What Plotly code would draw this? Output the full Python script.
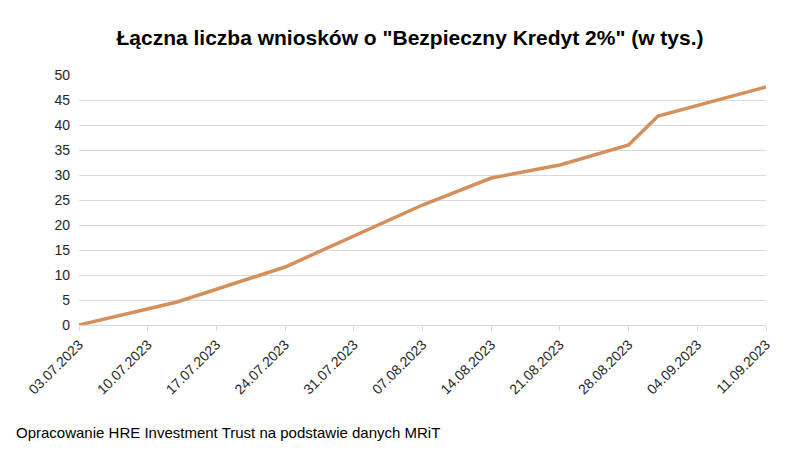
import plotly.graph_objects as go

dates = ["2023-07-03", "2023-07-10", "2023-07-13", "2023-07-24", "2023-08-07",
         "2023-08-14", "2023-08-21", "2023-08-28", "2023-08-31", "2023-09-11"]
values = [0, 3.2, 4.6, 11.6, 24.0, 29.4, 32.0, 36.0, 41.8, 47.6]
tick_dates = ["2023-07-03", "2023-07-10", "2023-07-17", "2023-07-24", "2023-07-31", "2023-08-07",
              "2023-08-14", "2023-08-21", "2023-08-28", "2023-09-04", "2023-09-11"]
tick_labels = [d[8:10] + "." + d[5:7] + "." + d[0:4] for d in tick_dates]

fig = go.Figure(go.Scatter(x=dates, y=values, mode="lines",
                           line=dict(color="#D4905C", width=3.5)))

fig.update_layout(
    width=804, height=454,
    margin=dict(l=71, r=46, t=67, b=137, autoexpand=False),
    plot_bgcolor="white", paper_bgcolor="white",
    font=dict(family="Liberation Sans, Arial", size=14, color="#262626"),
    showlegend=False,
    title=dict(text="<b>Łączna liczba wniosków o \"Bezpieczny Kredyt 2%\" (w tys.)</b>",
               x=0.5, xanchor="center", y=0.95, font=dict(size=21, color="black")),
    annotations=[dict(text="Opracowanie HRE Investment Trust na podstawie danych MRiT",
                      xref="paper", yref="paper", x=-0.095, y=-0.43, xanchor="left",
                      yanchor="middle", showarrow=False, font=dict(size=15, color="black"))],
)
fig.update_xaxes(type="date", tickvals=tick_dates, ticktext=tick_labels, tickangle=-45,
                 range=["2023-07-03", "2023-09-11"], showgrid=False, showline=True,
                 linecolor="#d9d9d9", ticks="outside", tickcolor="#d9d9d9", ticklen=5,
                 automargin=False, tickfont=dict(size=14, color="#262626"))
fig.update_yaxes(range=[0, 50], dtick=5, showgrid=True, gridcolor="#d9d9d9",
                 zeroline=False, automargin=False, ticklabelstandoff=8,
                 tickfont=dict(size=14, color="#262626"))

fig.write_html("out.html")
